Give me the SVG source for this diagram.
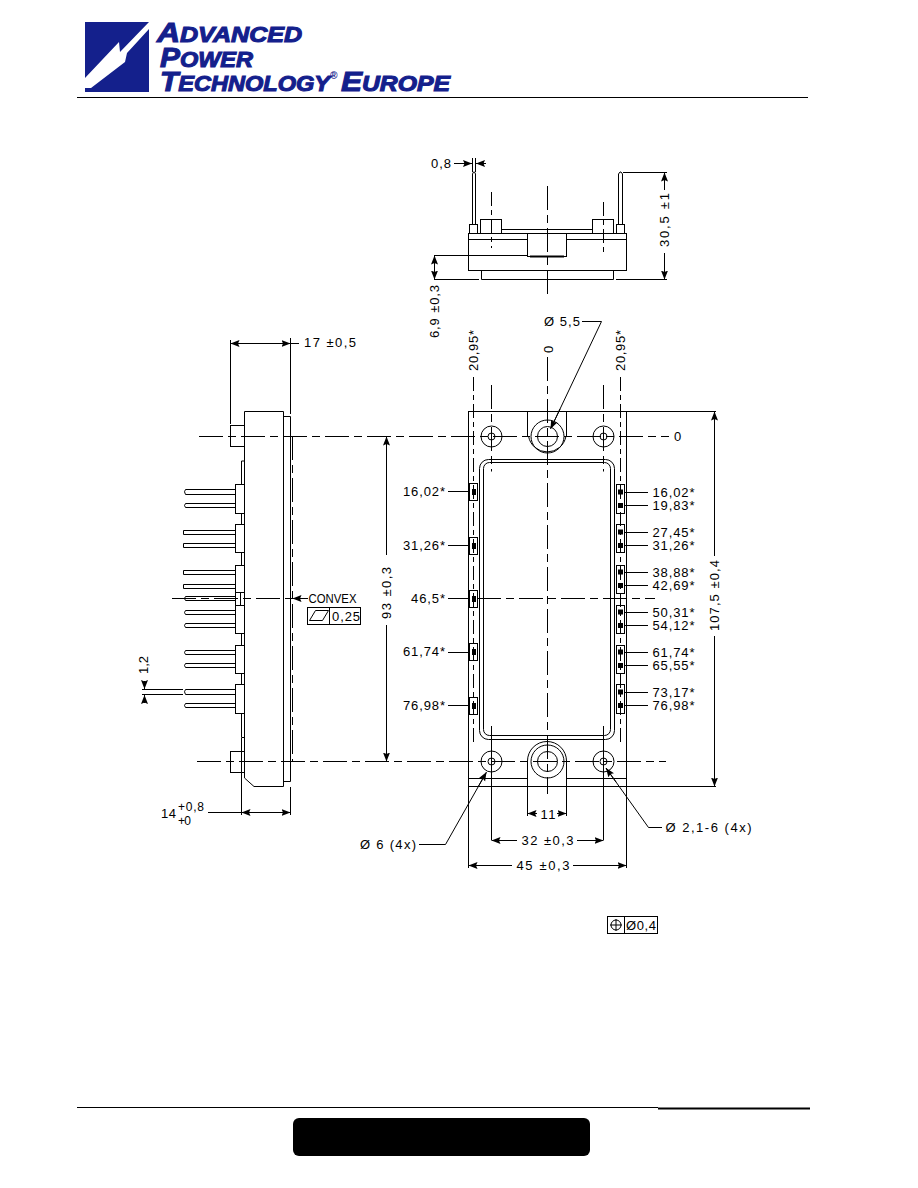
<svg xmlns="http://www.w3.org/2000/svg" width="918" height="1188" viewBox="0 0 918 1188">
<style>
.s{fill:none;stroke:#000;stroke-width:1}
.w{fill:#fff;stroke:#000;stroke-width:1}
.c{fill:none;stroke:#000;stroke-width:1;stroke-dasharray:24 5 8 5}
.d{fill:none;stroke:#000;stroke-width:1;stroke-dasharray:14 4 5 4}
.t{font-family:"Liberation Sans",Arial,sans-serif;font-size:13px;fill:#000}
.l{font-family:"Liberation Sans",Arial,sans-serif;font-weight:700;font-style:italic;fill:#14208c;stroke:#14208c;stroke-width:1.1}
.a{fill:none;stroke:#000;stroke-width:1;marker-end:url(#ah)}
.b{fill:none;stroke:#000;stroke-width:1;marker-start:url(#ah);marker-end:url(#ah)}
</style>
<defs>
<marker id="ah" markerUnits="userSpaceOnUse" markerWidth="10" markerHeight="8" viewBox="0 0 10 8" refX="9" refY="4" orient="auto-start-reverse"><path d="M0 .5L9 4L0 7.5L1.5 4z" fill="#000"/></marker>
</defs>
<rect width="918" height="1188" fill="#fff"/>

<g id="logo">
<path d="M85 22H149V92H85z" fill="#14208c"/>
<path d="M85 78L119 42L120 52L149 22V29L127 53L125 62L91 88H85z" fill="#fff"/>
<text class="l" x="157" y="42" font-size="22" textLength="145" lengthAdjust="spacingAndGlyphs"><tspan font-size="28">A</tspan>DVANCED</text>
<text class="l" x="160" y="67" font-size="22" textLength="93" lengthAdjust="spacingAndGlyphs"><tspan font-size="28">P</tspan>OWER</text>
<text class="l" x="160" y="91" font-size="22" textLength="170" lengthAdjust="spacingAndGlyphs"><tspan font-size="28">T</tspan>ECHNOLOGY</text>
<text class="l" x="330" y="79" font-size="10" style="stroke-width:0">®</text>
<text class="l" x="341" y="91" font-size="22" textLength="109" lengthAdjust="spacingAndGlyphs"><tspan font-size="28">E</tspan>UROPE</text>
</g>
<path id="header-rule" class="s" d="M77 97.5H808"/>
<g id="footer">
<path class="s" d="M77 1107.5H658"/>
<path d="M658 1108.5H810" fill="none" stroke="#000" stroke-width="2"/>
<rect x="293" y="1118" width="297" height="38" rx="6" fill="#000"/>
</g>

<g id="top-view">
<rect class="s" x="468.5" y="233.5" width="158" height="37"/>
<path class="s" d="M468.5 239.5H527.5M566.5 239.5H626.5"/>
<rect class="s" x="527.5" y="233.5" width="39" height="23"/>
<path d="M530 256.5H564" fill="none" stroke="#000" stroke-width="2"/>
<path class="s" d="M481.5 270.5V279.5H613.5V270.5"/>
<rect class="s" x="480.5" y="219.5" width="21" height="14"/>
<rect class="s" x="592.5" y="219.5" width="21" height="14"/>
<path class="s" d="M501.5 229.5H592.5"/>
<rect class="s" x="469.5" y="224.5" width="8" height="9"/>
<rect class="s" x="616.5" y="224.5" width="8" height="9"/>
<path class="s" d="M472.5 224.5V174L473.5 172H474.5L475.5 174V224.5"/>
<path class="s" d="M618.5 224.5V174L620 172H621L622.5 174V224.5"/>
<path class="d" d="M491.5 192V248M603.5 202V255"/>
<path class="c" d="M547.5 186V296"/>
</g>

<g id="side-view">
<path class="s" d="M244.5 411.5H283.5V786.5H254L244.5 778V411.5z"/>
<path class="s" d="M283.5 416.5H290.5V781.5H283.5"/>
<rect class="s" x="230.5" y="425.5" width="14" height="21"/>
<rect class="s" x="230.5" y="751.5" width="14" height="21"/>
<path class="s" d="M241.5 484V461H244.5M241.5 514V524M241.5 552V565M241.5 633V645M241.5 673V684M241.5 713V737.5H244.5"/>
<rect class="s" x="235.5" y="484.5" width="9" height="29"/>
<rect class="s" x="235.5" y="524.5" width="9" height="28"/>
<rect class="s" x="235.5" y="565.5" width="9" height="68"/>
<path class="s" d="M235.5 592.5H244.5M235.5 605.5H244.5M240.5 592.5V605.5"/>
<rect class="s" x="235.5" y="645.5" width="9" height="28"/>
<rect class="s" x="235.5" y="684.5" width="9" height="29"/>
<path class="s" d="M235.5 489.5H185.5Q183.5 491.5 185.5 494.5H235.5M235.5 503.5H185.5Q183.5 505.5 185.5 507.5H235.5M235.5 530.5H183.5V534.5H235.5M235.5 543.5H183.5V547.5H235.5M235.5 570.5H183.5V574.5H235.5M235.5 584.5H183.5V588.5H235.5M235.5 596.5H185.5Q183.5 598.5 185.5 600.5H235.5M235.5 610.5H185.5Q183.5 612.5 185.5 614.5H235.5M235.5 623.5H185.5Q183.5 625.5 185.5 627.5H235.5M235.5 650.5H185.5Q183.5 652.5 185.5 654.5H235.5M235.5 663.5H185.5Q183.5 665.5 185.5 667.5H235.5M235.5 689.5H185.5Q183.5 691.5 185.5 694.5H235.5M235.5 703.5H185.5Q183.5 705.5 185.5 707.5H235.5"/>
<path class="c" d="M292.5 436V761"/>
</g>

<g id="front-view">
<rect class="s" x="468.5" y="411.5" width="158" height="375"/>
<path class="s" d="M527.5 411.5V436M566.5 411.5V436"/>
<path class="s" d="M528.5 436A19 19 0 0 0 566 436"/>
<circle class="s" cx="547.5" cy="436.5" r="16.5"/>
<circle class="s" cx="547.5" cy="436.5" r="10"/>
<path class="s" d="M527.5 786.5V761A19.5 19.5 0 0 1 566.5 761V786.5"/>
<circle class="s" cx="547.5" cy="761.5" r="16.5"/>
<circle class="s" cx="547.5" cy="761.5" r="10"/>
<path class="s" d="M468.5 778.5H527.5M566.5 778.5H626.5"/>
<circle class="s" cx="491.5" cy="436.5" r="10.5"/><circle class="s" cx="491.5" cy="436.5" r="3.5"/>
<circle class="s" cx="603.5" cy="436.5" r="10.5"/><circle class="s" cx="603.5" cy="436.5" r="3.5"/>
<circle class="s" cx="491.5" cy="761.5" r="10.5"/><circle class="s" cx="491.5" cy="761.5" r="3.5"/>
<circle class="s" cx="603.5" cy="761.5" r="10.5"/><circle class="s" cx="603.5" cy="761.5" r="3.5"/>
<rect class="s" x="479.5" y="459.5" width="135" height="280" rx="9"/>
<rect class="s" x="483.5" y="462.5" width="127" height="273" rx="6"/>
<g id="pins-left">
<rect class="w" x="469.5" y="483.5" width="8" height="17"/><rect x="472" y="489" width="4" height="6"/>
<rect class="w" x="469.5" y="537.5" width="8" height="17"/><rect x="472" y="543" width="4" height="6"/>
<rect class="w" x="469.5" y="590.5" width="8" height="17"/><rect x="472" y="596" width="4" height="6"/>
<rect class="w" x="469.5" y="643.5" width="8" height="17"/><rect x="472" y="649" width="4" height="6"/>
<rect class="w" x="469.5" y="697.5" width="8" height="17"/><rect x="472" y="703" width="4" height="6"/>
</g>
<g id="pins-right">
<rect class="w" x="616.5" y="484.5" width="8" height="29"/><rect x="618" y="489.5" width="5" height="5"/><rect x="618" y="503" width="5" height="5"/>
<rect class="w" x="616.5" y="524.5" width="8" height="28"/><rect x="618" y="529.5" width="5" height="5"/><rect x="618" y="543" width="5" height="5"/>
<rect class="w" x="616.5" y="565.5" width="8" height="28"/><rect x="618" y="569.5" width="5" height="5"/><rect x="618" y="583" width="5" height="5"/>
<rect class="w" x="616.5" y="605.5" width="8" height="28"/><rect x="618" y="609.5" width="5" height="5"/><rect x="618" y="623" width="5" height="5"/>
<rect class="w" x="616.5" y="645.5" width="8" height="28"/><rect x="618" y="649.5" width="5" height="5"/><rect x="618" y="663" width="5" height="5"/>
<rect class="w" x="616.5" y="684.5" width="8" height="29"/><rect x="618" y="689.5" width="5" height="5"/><rect x="618" y="703" width="5" height="5"/>
</g>
<path class="d" d="M473.5 377V742M620.5 377V743"/>
<path class="c" d="M547.5 357V794"/>
<path class="c" d="M491.5 385V471.5M603.5 385V471.5"/>
<path class="s" d="M491.5 726V840M603.5 726V840"/>
</g>

<g id="connectors">
<path class="c" d="M199 436.5H669"/>
<path class="c" d="M197 761.5H666"/>
<path class="c" d="M172 598.5H292"/>
<path class="c" d="M477 598.5H655"/>
<path class="s" d="M472.5 158V172M475.5 158V172"/>
<path class="a" d="M454 163.5H472"/><path class="a" d="M486 163.5H476"/>
<path class="s" d="M623 172.5H667M616 279.5H667"/>
<path class="a" d="M664.5 190V172.5"/><path class="a" d="M664.5 253V279.5"/>
<path class="s" d="M434 255.5H527M434 279.5H479"/>
<path class="b" d="M434.5 255.5V279.5"/>
<path class="s" d="M582 321.5H601.5L551 428"/>
<path class="a" d="M560 409L550.5 429"/>
<path class="s" d="M230.5 340V424M290.5 338V414"/>
<path class="s" d="M290 343.5H299"/>
<path class="b" d="M230.5 343.5H290.5"/>
<path class="s" d="M142 689.5H183"/>
<path class="s" d="M142 694.5H183"/>
<path class="a" d="M144.5 681V689"/><path class="a" d="M144.5 703V695"/>
<path class="s" d="M241.5 738V815M290.5 787V815"/>
<path class="s" d="M208 812.5H241.5"/>
<path class="b" d="M241.5 812.5H290.5"/>
<path class="a" d="M308 598.5H292.5"/>
<path class="a" d="M386.5 555V436.5"/><path class="a" d="M386.5 625V761.5"/>
<path class="s" d="M448 491.5H469M448 545.5H469M448 598.5H469M448 652.5H469M448 705.5H469"/>
<path class="s" d="M625 492.5H648M625 505.5H648M625 532.5H648M625 545.5H648M625 572.5H648M625 585.5H648M625 612.5H648M625 625.5H648M625 652.5H648M625 665.5H648M625 692.5H648M625 705.5H648"/>
<path class="s" d="M627 411.5H716M627 786.5H716"/>
<path class="a" d="M714.5 556V411.5"/><path class="a" d="M714.5 636V786.5"/>
<path class="s" d="M527.5 787V816M566.5 787V816"/>
<path class="a" d="M537 813.5H527.5"/><path class="a" d="M557 813.5H566.5"/>
<path class="a" d="M517 840.5H491.5"/><path class="a" d="M577 840.5H603.5"/>
<path class="s" d="M468.5 787V868M626.5 787V868"/>
<path class="a" d="M512 865.5H468.5"/><path class="a" d="M573 865.5H626.5"/>
<path class="s" d="M419 844.5H445.5L486 773"/>
<path class="a" d="M478 787L486.5 772"/>
<path class="s" d="M662 827.5H648.5L606 768"/>
<path class="a" d="M616 782L606 768"/>
</g>

<g id="labels">
<text class="t" x="431" y="168" textLength="20">0,8</text>
<text class="t" transform="translate(669 247) rotate(-90)" textLength="54">30,5 ±1</text>
<text class="t" transform="translate(439 338) rotate(-90)" textLength="53">6,9 ±0,3</text>
<text class="t" x="544" y="326" textLength="36">Ø 5,5</text>
<text class="t" x="304" y="347" textLength="52">17 ±0,5</text>
<text class="t" transform="translate(478 371) rotate(-90)" textLength="41">20,95*</text>
<text class="t" transform="translate(625 371) rotate(-90)" textLength="41">20,95*</text>
<text class="t" transform="translate(552.5 353) rotate(-90)">0</text>
<text class="t" x="674" y="441">0</text>
<text class="t" transform="translate(148 674) rotate(-90)" textLength="18">1,2</text>
<text class="t" x="161" y="818" textLength="15">14</text>
<text class="t" x="178" y="811" textLength="26" style="font-size:12px">+0,8</text>
<text class="t" x="178" y="825" textLength="13" style="font-size:12px">+0</text>
<text class="t" x="308.5" y="603" textLength="48" lengthAdjust="spacingAndGlyphs">CONVEX</text>
<g id="flatness"><rect class="s" x="307.5" y="607.5" width="53" height="17"/><path class="s" d="M329.5 607.5V624.5M309.5 620.5L315.5 610.5H328.5L322.5 620.5z"/><text class="t" x="332" y="621" textLength="28">0,25</text></g>
<text class="t" transform="translate(391 619) rotate(-90)" textLength="52">93 ±0,3</text>
<text class="t" x="403" y="496" textLength="42">16,02*</text>
<text class="t" x="403" y="550" textLength="42">31,26*</text>
<text class="t" x="411" y="603" textLength="34">46,5*</text>
<text class="t" x="403" y="656" textLength="42">61,74*</text>
<text class="t" x="403" y="710" textLength="42">76,98*</text>
<text class="t" x="652.5" y="497" textLength="42">16,02*</text>
<text class="t" x="652.5" y="510" textLength="42">19,83*</text>
<text class="t" x="652.5" y="537" textLength="42">27,45*</text>
<text class="t" x="652.5" y="550" textLength="42">31,26*</text>
<text class="t" x="652.5" y="577" textLength="42">38,88*</text>
<text class="t" x="652.5" y="590" textLength="42">42,69*</text>
<text class="t" x="652.5" y="617" textLength="42">50,31*</text>
<text class="t" x="652.5" y="630" textLength="42">54,12*</text>
<text class="t" x="652.5" y="657" textLength="42">61,74*</text>
<text class="t" x="652.5" y="670" textLength="42">65,55*</text>
<text class="t" x="652.5" y="697" textLength="42">73,17*</text>
<text class="t" x="652.5" y="710" textLength="42">76,98*</text>
<text class="t" transform="translate(718.5 631) rotate(-90)" textLength="71">107,5 ±0,4</text>
<text class="t" x="540.5" y="818.5" textLength="15">11</text>
<text class="t" x="521.5" y="845" textLength="52">32 ±0,3</text>
<text class="t" x="516.5" y="870" textLength="53">45 ±0,3</text>
<text class="t" x="360" y="849" textLength="56">Ø 6 (4x)</text>
<text class="t" x="665.5" y="832" textLength="86">Ø 2,1-6 (4x)</text>
<g id="position-tolerance"><rect class="s" x="607.5" y="916.5" width="50" height="17"/><path class="s" d="M624.5 916.5V933.5M610 925H622M616 919V931"/><circle class="s" cx="616" cy="925" r="5"/><text class="t" x="626" y="930" textLength="30">Ø0,4</text></g>
</g>
</svg>
